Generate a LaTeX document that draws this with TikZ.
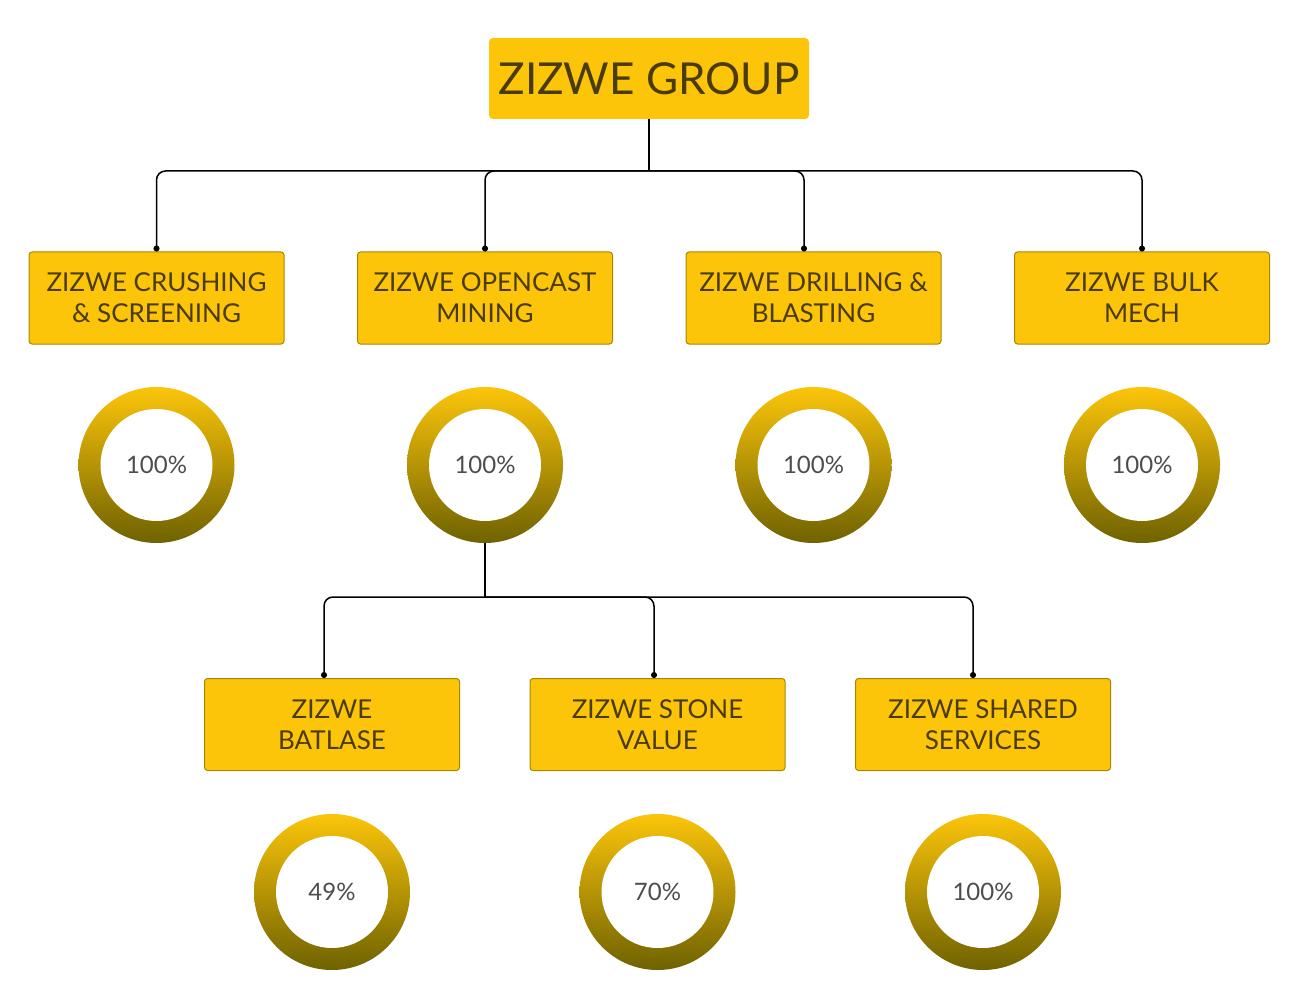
\documentclass[tikz,border=0pt]{standalone}
\usepackage{fontspec}
\setmainfont{Lato}
\usetikzlibrary{positioning,arrows.meta}
\definecolor{zyellow}{HTML}{FCC50A}
\definecolor{zedge}{HTML}{A88700}
\definecolor{ztext}{HTML}{4A3B0A}
\definecolor{ringtop}{HTML}{FCC50A}
\definecolor{ringbot}{HTML}{6F6200}
\definecolor{pcttext}{HTML}{4D4D4D}
\tikzset{
  company/.style={rectangle, rounded corners=3pt, fill=zyellow, draw=zedge, line width=1pt,
    minimum width=255pt, minimum height=92pt, align=center, text=ztext,
    font=\fontsize{26}{31}\selectfont},
  ring/.style={circle, minimum size=156pt, inner sep=0pt, top color=ringtop, bottom color=ringbot,
    text=pcttext, font=\fontsize{24}{28}\selectfont,
    path picture={\fill[white] (path picture bounding box.center) circle (56pt);}},
  link/.style={line width=1.5pt, rounded corners=9pt, -{Circle[length=6pt]}}
}
\begin{document}
\begin{tikzpicture}[x=1pt,y=1pt,on grid]
  \useasboundingbox (0,0) rectangle (1314,-1008);
  \node[rectangle, rounded corners=4pt, fill=zyellow, minimum width=320pt, minimum height=81pt,
        text=ztext, font=\fontsize{44}{50}\selectfont] (group) at (649,-78.5) {ZIZWE GROUP};
  % first row
  \node[company] (crush) at (156.5,-298) {ZIZWE CRUSHING\\\& SCREENING};
  \node[company] [right=328.5pt of crush] (opencast) {ZIZWE OPENCAST\\MINING};
  \node[company] [right=328.5pt of opencast] (drill) {ZIZWE DRILLING \&\\BLASTING};
  \node[company] [right=328.5pt of drill] (bulk) {ZIZWE BULK\\MECH};
  \node[ring] [below=167pt of crush] (rcrush) {100\%};
  \node[ring] [below=167pt of opencast] (ropencast) {100\%};
  \node[ring] [below=167pt of drill] (rdrill) {100\%};
  \node[ring] [below=167pt of bulk] (rbulk) {100\%};
  % second row
  \node[company] (batlase) at (332,-724.5) {ZIZWE\\BATLASE};
  \node[company] [right=325.5pt of batlase] (stone) {ZIZWE STONE\\VALUE};
  \node[company] [right=325.5pt of stone] (shared) {ZIZWE SHARED\\SERVICES};
  \node[ring] [below=167.5pt of batlase] (rbatlase) {49\%};
  \node[ring] [below=167.5pt of stone] (rstone) {70\%};
  \node[ring] [below=167.5pt of shared] (rshared) {100\%};
  % connectors
  \coordinate (bus) at (group.south |- 0,-171);
  \draw[line width=1.5pt] (group.south) -- (bus);
  \draw[link] (bus) -| (crush.north);
  \draw[link] (bus) -| (opencast.north);
  \draw[link] (bus) -| ([xshift=-9.5pt]drill.north);
  \draw[link] (bus) -| (bulk.north);
  \coordinate (subbus) at (ropencast.south |- 0,-597);
  \draw[line width=1.5pt] (ropencast.south) -- (subbus);
  \draw[link] (subbus) -| ([xshift=-8pt]batlase.north);
  \draw[link] (subbus) -| ([xshift=-3.5pt]stone.north);
  \draw[link] (subbus) -| ([xshift=-10pt]shared.north);
\end{tikzpicture}
\end{document}
